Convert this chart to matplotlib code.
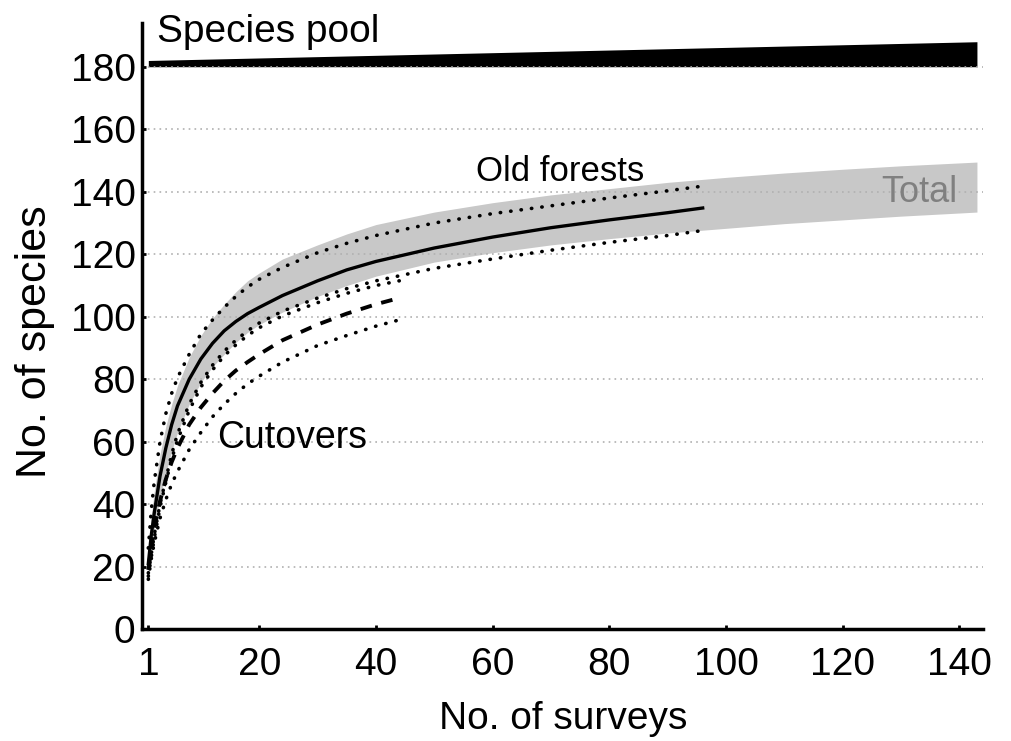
import numpy as np
import matplotlib
matplotlib.use("Agg")
import matplotlib.pyplot as plt

plt.rcParams['font.family'] = ['Liberation Sans', 'DejaVu Sans']

# species pool band
pool_x = [1, 143]
pool_lo = [180, 180]
pool_hi = [182, 188]

# total (grey band)
tot_x = [1, 1.5, 2, 3, 4, 5, 6, 8, 10, 12, 14, 16, 18, 20, 24, 30, 35, 40, 50, 60, 70, 80,
         90, 100, 110, 120, 130, 143]
tot_hi = [25, 36, 44, 56, 65, 72, 78, 87, 94, 99.5, 104, 108, 111.5, 114, 118.5, 123, 126.5,
          129.5, 133.5, 136.5, 139, 141, 143, 144.6, 146, 147.2, 148.3, 149.5]
tot_lo = [19, 26, 32, 42, 50, 57, 63, 72, 79, 84, 88, 91.8, 95, 97.5, 101.5, 106.5, 110, 113,
          117.5, 120.5, 123, 125, 126.8, 128.3, 129.8, 131, 132.2, 133.5]

# old forests
of_x = [1, 1.5, 2, 3, 4, 5, 6, 8, 10, 12, 14, 16, 18, 20, 24, 30, 35, 40, 50, 60, 70, 80, 90, 96]
of_mean = [21, 30, 37, 49, 58, 65.5, 71.5, 80, 86.5, 91.5, 95.5, 98.5, 101, 103, 106.8, 111.5,
           115, 117.7, 122, 125.5, 128.5, 131, 133.3, 134.8]
of_hi = [26, 38, 47, 60, 69, 75.5, 80.5, 88, 94.5, 99, 103, 106.5, 109.5, 112, 115.8, 120.5,
         123.5, 126, 130, 133, 135.5, 138, 140.3, 141.8]
of_lo = [18, 24, 30, 40, 48, 56, 62.5, 72, 79, 84.5, 89, 92.5, 95.5, 98, 101.8, 106, 109,
         111.5, 115.5, 118.5, 121.3, 123.8, 126, 127.6]

# cutovers
cut_x = [1, 1.5, 2, 3, 4, 5, 6, 8, 10, 12, 14, 16, 18, 20, 24, 30, 35, 40, 44]
cut_mean = [19, 26, 32, 41, 48, 53.5, 58, 65.5, 71, 75.5, 79.5, 82.8, 85.5, 88, 92.5, 97.5,
            101, 104, 106]
cut_hi = [17, 23, 29, 39, 47, 54.5, 60.5, 70, 77.5, 83, 87.5, 91, 94, 96.5, 100.3, 104.5,
          107.5, 110, 111.5]
cut_lo = [16, 22.5, 27.5, 35.5, 41.5, 46.5, 50.5, 57.5, 63, 68, 72, 75.5, 78.5, 81, 85.5,
          90.8, 94, 97, 99]

xticks = [1, 20, 40, 60, 80, 100, 120, 140]
yticks = [0, 20, 40, 60, 80, 100, 120, 140, 160, 180]

fig = plt.figure(figsize=(10.12, 7.41), dpi=100)
ax = fig.add_axes([0.1408, 0.1507, 0.9717 - 0.1408, 0.969 - 0.1507])

ax.fill_between(pool_x, pool_lo, pool_hi, color='black', lw=0, zorder=0.2)
ax.fill_between(tot_x, tot_lo, tot_hi, color='#c8c8c8', lw=0, zorder=0.2)

dot = dict(color='black', lw=2.6, ls=(0, (0.1, 2.8)), dash_capstyle='round', zorder=3)
ax.plot(of_x, of_mean, color='black', lw=2.4, zorder=3)
ax.plot(of_x, of_hi, **dot)
ax.plot(of_x, of_lo, **dot)
ax.plot(cut_x, cut_mean, color='black', lw=2.8, ls=(0, (3.0, 2.5)), zorder=3)
ax.plot(cut_x, cut_hi, **dot)
ax.plot(cut_x, cut_lo, **dot)

ax.text(2.5, 188, 'Species pool', fontsize=28, va='baseline')
ax.text(57.2, 143.5, 'Old forests', fontsize=25, va='baseline')
ax.text(12.8, 58, 'Cutovers', fontsize=27, va='baseline')
ax.text(126.6, 136.8, 'Total', fontsize=26, va='baseline', color='#808080')

ax.set_xlim(0, 144.1)
ax.set_ylim(0, 194)
ax.set_xticks(xticks)
ax.set_yticks(yticks)
ax.tick_params(direction='in', length=3, width=2, labelsize=28)
ax.tick_params(axis='x', pad=13)
ax.tick_params(axis='y', pad=5)

ax.set_axisbelow(True)
ax.yaxis.grid(True, color='#b0b0b0', lw=1.2, ls=(0, (1, 2.5)))
for sp in ['top', 'right']:
    ax.spines[sp].set_visible(False)
for sp in ['left', 'bottom']:
    ax.spines[sp].set_linewidth(2.5)

ax.set_xlabel('No. of surveys', fontsize=28)
ax.set_ylabel('No. of species', fontsize=31)
ax.xaxis.set_label_coords(0.5, -0.118)
ax.yaxis.set_label_coords(-0.104, 0.475)

fig.savefig('out.png', dpi=100)
